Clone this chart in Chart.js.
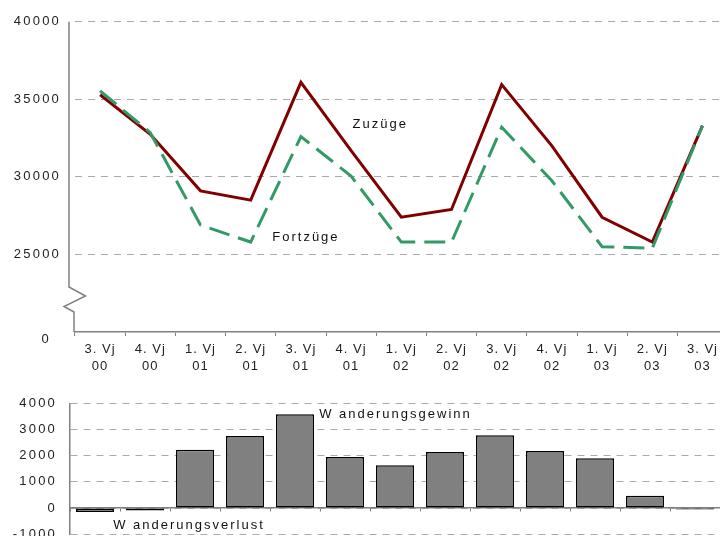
<!DOCTYPE html>
<html>
<head>
<meta charset="utf-8">
<script src="https://cdn.jsdelivr.net/npm/chart.js@4.4.1/dist/chart.umd.min.js"></script>
<style>
    html, body { margin: 0; padding: 0; background: #fff; }
    #wrap { position: relative; width: 720px; height: 536px; overflow: hidden; }
    #top_box { position: absolute; left: 0; top: 0; }
    #bottom_box { position: absolute; left: 0; top: 380px; }
</style>
</head>
<body>
<div id="wrap">
    <div id="top_box"><canvas id="move_Chart" width="730" height="380"></canvas></div>
    <div id="bottom_box"><canvas id="saldo_Chart" width="720" height="175"></canvas></div>
</div>
<script>
// Quartale (Vierteljahre)
const quarterLabels = [
    ['3. Vj', '00'], ['4. Vj', '00'], ['1. Vj', '01'], ['2. Vj', '01'], ['3. Vj', '01'],
    ['4. Vj', '01'], ['1. Vj', '02'], ['2. Vj', '02'], ['3. Vj', '02'], ['4. Vj', '02'],
    ['1. Vj', '03'], ['2. Vj', '03'], ['3. Vj', '03']
];
const zuzuege   = [35300, 32750, 29100, 28500, 36100, 31700, 27400, 27900, 35950, 32000, 27400, 25800, 33300];
const fortzuege = [35550, 32850, 26900, 25800, 32600, 30050, 25800, 25800, 33200, 29750, 25500, 25400, 33300];
const saldo     = [-150, -90, 2230, 2750, 3580, 1950, 1630, 2140, 2780, 2180, 1900, 470, -60];

// oberes Diagramm: Achse unterbrochen, "0" steht fuer den Achsenfuss
const topMin = 20000;
const topMax = 40000;
const topStep = 5000;
const topZeroLabel = '0';
const saldoMin = -1000;
const saldoMax = 4000;
const saldoStep = 1000;

// Beschriftungen im Diagramm (Kategorie-Index, Wert)
const topNotes = [
    { text: 'Zuzüge', at: 5.58, value: 33380 },
    { text: 'Fortzüge', at: 4.1, value: 26090 }
];
const saldoNotes = [
    { text: 'W anderungsgewinn', at: 6.01, value: 3590 },
    { text: 'W anderungsverlust', at: 1.88, value: -680 }
];

Chart.defaults.font.family = "'Liberation Sans', Arial, sans-serif";
Chart.defaults.color = '#222';

function drawNotes(chart, notes) {
    const ctx = chart.ctx;
    ctx.save();
    ctx.font = "13px 'Liberation Sans', Arial, sans-serif";
    ctx.letterSpacing = '2px';
    ctx.fillStyle = '#111';
    ctx.textAlign = 'center';
    ctx.textBaseline = 'middle';
    notes.forEach(n => {
        ctx.fillText(n.text, chart.scales.x.getPixelForValue(n.at), chart.scales.y.getPixelForValue(n.value));
    });
    ctx.restore();
}

const topDecor = {
    id: 'topDecor',
    beforeDraw(chart) {
        chart.ctx.letterSpacing = '2.2px';
    },
    afterDatasetsDraw(chart) {
        const ctx = chart.ctx;
        const L = chart.chartArea.left;
        const Z = chart.scales.y.getPixelForValue(topMin);
        const T = chart.scales.y.getPixelForValue(topMax);
        // y-Achse mit Bruchzeichen
        ctx.save();
        ctx.strokeStyle = '#808080';
        ctx.lineWidth = 1.5;
        ctx.beginPath();
        ctx.moveTo(L - 6, T);
        ctx.lineTo(L - 6, Z - 45);
        ctx.lineTo(L + 10.5, Z - 36);
        ctx.lineTo(L - 11, Z - 25.5);
        ctx.lineTo(L - 1, Z - 20);
        ctx.lineTo(L - 1, Z);
        ctx.stroke();
        ctx.font = "13px 'Liberation Sans', Arial, sans-serif";
        ctx.letterSpacing = '2.2px';
        ctx.fillStyle = '#222';
        ctx.textAlign = 'right';
        ctx.textBaseline = 'middle';
        ctx.fillText(topZeroLabel, L - 24, Z + 7);
        ctx.restore();
        drawNotes(chart, topNotes);
        chart.ctx.letterSpacing = '1px'; // fuer die x-Beschriftung
    }
};

const saldoDecor = {
    id: 'saldoDecor',
    beforeDraw(chart) {
        chart.ctx.letterSpacing = '2.2px';
    },
    afterDatasetsDraw(chart) {
        drawNotes(chart, saldoNotes);
    }
};

// Zu- und Fortzuege
new Chart(document.getElementById('move_Chart').getContext('2d'), {
    type: 'line',
    data: {
        labels: quarterLabels,
        datasets: [{
            label: 'Zuzüge',
            data: zuzuege,
            borderColor: '#800000',
            borderWidth: 3,
            pointRadius: 0,
            tension: 0,
            order: 1
        }, {
            label: 'Fortzüge',
            data: fortzuege,
            borderColor: '#339966',
            borderWidth: 3,
            borderDash: [21, 9],
            pointRadius: 0,
            tension: 0,
            order: 0
        }]
    },
    options: {
        responsive: false,
        animation: false,
        layout: { padding: { top: 20, right: 2.4, bottom: 0, left: 0 } },
        plugins: {
            legend: { display: false },
            tooltip: { enabled: false }
        },
        scales: {
            x: {
                offset: true,
                grid: { offset: true, drawOnChartArea: false, tickLength: 4, color: '#808080' },
                border: { color: '#808080', width: 1.5 },
                ticks: {
                    autoSkip: false,
                    maxRotation: 0,
                    padding: 5.5,
                    z: 1,
                    font: { size: 13, lineHeight: 1.28 }
                },
                afterFit: s => { s.height = 48; }
            },
            y: {
                min: topMin,
                max: topMax,
                grid: {
                    drawTicks: false,
                    color: c => c.tick && c.tick.value === topMin ? 'rgba(0,0,0,0)' : '#aaaaaa'
                },
                border: { display: false, dash: [7, 6] },
                ticks: {
                    stepSize: topStep,
                    padding: 14,
                    font: { size: 13 },
                    callback: v => v === topMin ? '' : String(v)
                },
                afterFit: s => { s.width = 75; }
            }
        }
    },
    plugins: [topDecor]
});

// Wanderungssaldo
new Chart(document.getElementById('saldo_Chart').getContext('2d'), {
    type: 'bar',
    data: {
        labels: quarterLabels,
        datasets: [{
            data: saldo,
            backgroundColor: '#808080',
            borderColor: '#000',
            borderWidth: 1.5,
            borderSkipped: false,
            barPercentage: 0.76,
            categoryPercentage: 1
        }]
    },
    options: {
        responsive: false,
        animation: false,
        layout: { padding: { top: 23.3, right: 0, bottom: 18, left: 0 } },
        plugins: {
            legend: { display: false },
            tooltip: { enabled: false }
        },
        scales: {
            x: {
                position: { y: 0 },
                offset: true,
                grid: { offset: true, drawOnChartArea: false, tickLength: 3, color: '#808080' },
                border: { color: '#808080', width: 1.5 },
                ticks: { display: false },
                afterFit: s => { s.height = 0; }
            },
            y: {
                min: saldoMin,
                max: saldoMax,
                grid: { drawTicks: false, color: '#aaaaaa' },
                border: { color: '#808080', width: 1.5, dash: [7, 6] },
                ticks: {
                    stepSize: saldoStep,
                    padding: 13,
                    font: { size: 13 },
                    callback: v => String(v)
                },
                afterFit: s => { s.width = 70; }
            }
        }
    },
    plugins: [saldoDecor]
});
</script>
</body>
</html>
